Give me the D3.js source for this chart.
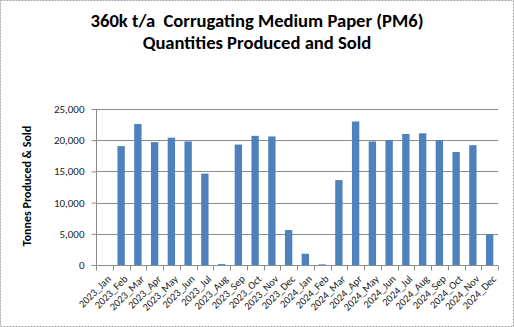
<!DOCTYPE html>
<html><head><meta charset="utf-8">
<script src="https://cdn.jsdelivr.net/npm/d3@7"></script>
<style>html,body{margin:0;padding:0;background:#fff}svg{display:block}</style>
</head><body>
<svg id="c" width="514" height="327"></svg>
<script>
const categories = ["2023_Jan","2023_Feb","2023_Mar","2023_Apr","2023_May","2023_Jun","2023_Jul","2023_Aug","2023_Sep","2023_Oct","2023_Nov","2023_Dec",
"2024_Jan","2024_Feb","2024_Mar","2024_Apr","2024_May","2024_Jun","2024_Jul","2024_Aug","2024_Sep","2024_Oct","2024_Nov","2024_Dec"];
const values = [0,19050,22600,19700,20400,19800,14650,150,19300,20700,20600,5600,
1800,100,13600,23000,19800,20000,21000,21100,20000,18100,19200,4900];
const yTicks = [0,5000,10000,15000,20000,25000];
const titleLines = ["360k t/a  Corrugating Medium Paper (PM6)","Quantities Produced and Sold"];
const yLabel = "Tonnes Produced & Sold";

const svg = d3.select("#c");
const W=514,H=327;
svg.append("rect").attr("x",0.5).attr("y",0.5).attr("width",W-1).attr("height",H-1)
  .attr("fill","#fff").attr("stroke","#a6a6a6").attr("stroke-dasharray","2,1");

const m={l:96,r:498,t:109,b:265};
const x=d3.scaleBand().domain(categories).range([m.l,m.r]).paddingInner(0.56).paddingOuter(0.28);
const y=d3.scaleLinear().domain([0,25000]).range([m.b,m.t]);

const font="Carlito, 'Open Sans', 'Noto Sans', sans-serif";
svg.selectAll(".title").data(titleLines).enter().append("text")
  .attr("x",257).attr("y",(d,i)=>27+i*21.5).attr("text-anchor","middle")
  .attr("font-family",font).attr("font-weight","bold").attr("font-size",18.6)
  .attr("fill","#000").style("white-space","pre").text(d=>d);

// grid
svg.append("g").selectAll("line").data(yTicks.filter(d=>d>0)).enter().append("line")
  .attr("x1",m.l).attr("x2",m.r).attr("y1",d=>Math.round(y(d))+0.5).attr("y2",d=>Math.round(y(d))+0.5)
  .attr("stroke","#8c8c8c").attr("stroke-width",1);

// bars
svg.append("g").selectAll("rect").data(values).enter().append("rect")
  .attr("x",(d,i)=>x(categories[i])).attr("width",x.bandwidth())
  .attr("y",d=>y(d)).attr("height",d=>y(0)-y(d)).attr("fill","#4f81bd");

// y axis
const ya=svg.append("g").attr("transform",`translate(${m.l+0.5},0)`)
  .call(d3.axisLeft(y).tickValues(yTicks).tickFormat(d3.format(",")).tickSize(5).tickPadding(7));
ya.select(".domain").attr("stroke","#8c8c8c").attr("d",`M-5,${m.t+0.5}H0V${m.b+0.5}H-5`);
ya.selectAll(".tick line").attr("stroke","#8c8c8c");
ya.selectAll("text").attr("font-family",font).attr("font-size",11).attr("fill","#222");

// x axis
const xa=svg.append("g").attr("transform",`translate(0,${m.b+0.5})`);
xa.append("line").attr("x1",m.l).attr("x2",m.r).attr("stroke","#8c8c8c");
const bounds=d3.range(categories.length+1).map(i=>m.l+i*(m.r-m.l)/categories.length);
xa.selectAll(".tk").data(bounds).enter().append("line")
  .attr("x1",d=>Math.round(d)+0.5).attr("x2",d=>Math.round(d)+0.5).attr("y1",0).attr("y2",5).attr("stroke","#8c8c8c");
xa.selectAll(".lb").data(categories).enter().append("text")
  .attr("transform",d=>`translate(${x(d)+x.bandwidth()/2+2},9) rotate(-45)`)
  .attr("text-anchor","end").attr("dy","0.7em")
  .attr("font-family",font).attr("font-size",10.5).attr("fill","#222").text(d=>d);

svg.append("text").attr("transform","translate(31,186) rotate(-90)").attr("text-anchor","middle")
  .attr("font-family",font).attr("font-weight","bold").attr("font-size",12).attr("fill","#000").text(yLabel);
</script>
</body></html>
